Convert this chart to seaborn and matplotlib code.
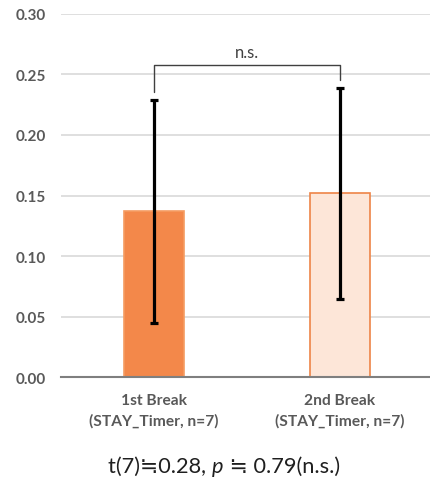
import matplotlib
matplotlib.use("Agg")
import matplotlib.pyplot as plt
import seaborn as sns
import pandas as pd

# Break-time ratio per condition (mean and standard deviation)
categories = ["1st Break\n(STAY_Timer, n=7)", "2nd Break\n(STAY_Timer, n=7)"]
means = [0.137, 0.152]
sds = [0.092, 0.087]
y_ticks = [0.00, 0.05, 0.10, 0.15, 0.20, 0.25, 0.30]
sig_label = "n.s."
stat_parts = ["t(7)≒0.28, ", "p", " ≒ 0.79(n.s.)"]

sns.set_theme(style="white")
plt.rcParams["font.family"] = ["Lato", "DejaVu Sans"]

fig = plt.figure(figsize=(4.30, 4.81), dpi=100)
W, H = 430, 481
ax = fig.add_axes([61 / W, 1 - 378.3 / H, 369 / W, (378.3 - 14.7) / H])

df = pd.DataFrame({"cond": categories, "value": means})
sns.barplot(data=df, x="cond", y="value", hue="cond", legend=False,
            palette=["#F3884A", "#FDE6D8"], saturation=1, width=0.32, ax=ax,
            errorbar=None, zorder=3)
for patch, ec in zip(ax.patches, ["#F59C62", "#EE8447"]):
    patch.set_edgecolor(ec)
    patch.set_linewidth(1.2)

ax.errorbar([0, 1], means, yerr=sds, fmt="none", ecolor="black",
            elinewidth=2.3, capsize=2.6, capthick=2.3, zorder=4)

ax.set_xlim(-0.5, 1.484)
ax.set_ylim(0, 0.30)
ax.set_yticks(y_ticks)
ax.set_yticklabels([f"{v:.2f}" for v in y_ticks])
ax.yaxis.grid(True, color="#D9D9D9", linewidth=1.2, zorder=0)
ax.set_axisbelow(True)
for s in ["top", "right", "left"]:
    ax.spines[s].set_visible(False)
ax.spines["bottom"].set_color("#7F7F7F")
ax.spines["bottom"].set_linewidth(1.5)
ax.spines["bottom"].set_zorder(5)
ax.tick_params(axis="y", length=0, pad=11, labelsize=11, labelcolor="#595959")
ax.tick_params(axis="x", length=0, pad=11, labelsize=11.2, labelcolor="#595959")
for lbl in ax.get_yticklabels() + ax.get_xticklabels():
    lbl.set_fontweight("bold")
for lbl in ax.get_xticklabels():
    lbl.set_linespacing(1.55)
ax.set_xlabel("")
ax.set_ylabel("")

# significance bracket between the two bars
bracket_y = 0.258
tops = [m + s + 0.006 for m, s in zip(means, sds)]
ax.plot([0, 0, 1, 1], [tops[0], bracket_y, bracket_y, tops[1]],
        color="#404040", linewidth=1.0, clip_on=False, zorder=6)
ax.text(0.5, bracket_y + 0.004, sig_label, ha="center", va="bottom",
        fontsize=12, color="#404040")

# test statistic line under the chart, with italic p
fig.canvas.draw()
renderer = fig.canvas.get_renderer()
styles = ["normal", "italic", "normal"]
texts = []
for part, st in zip(stat_parts, styles):
    t = fig.text(0, 1 - 467 / H, part, fontsize=15.7, color="#1F1F1F",
                 style=st, va="center", ha="left")
    texts.append(t)
widths = [t.get_window_extent(renderer).width for t in texts]
x = 224 - sum(widths) / 2
for t, w in zip(texts, widths):
    t.set_x(x / W)
    x += w

fig.savefig("out.png", dpi=100)
